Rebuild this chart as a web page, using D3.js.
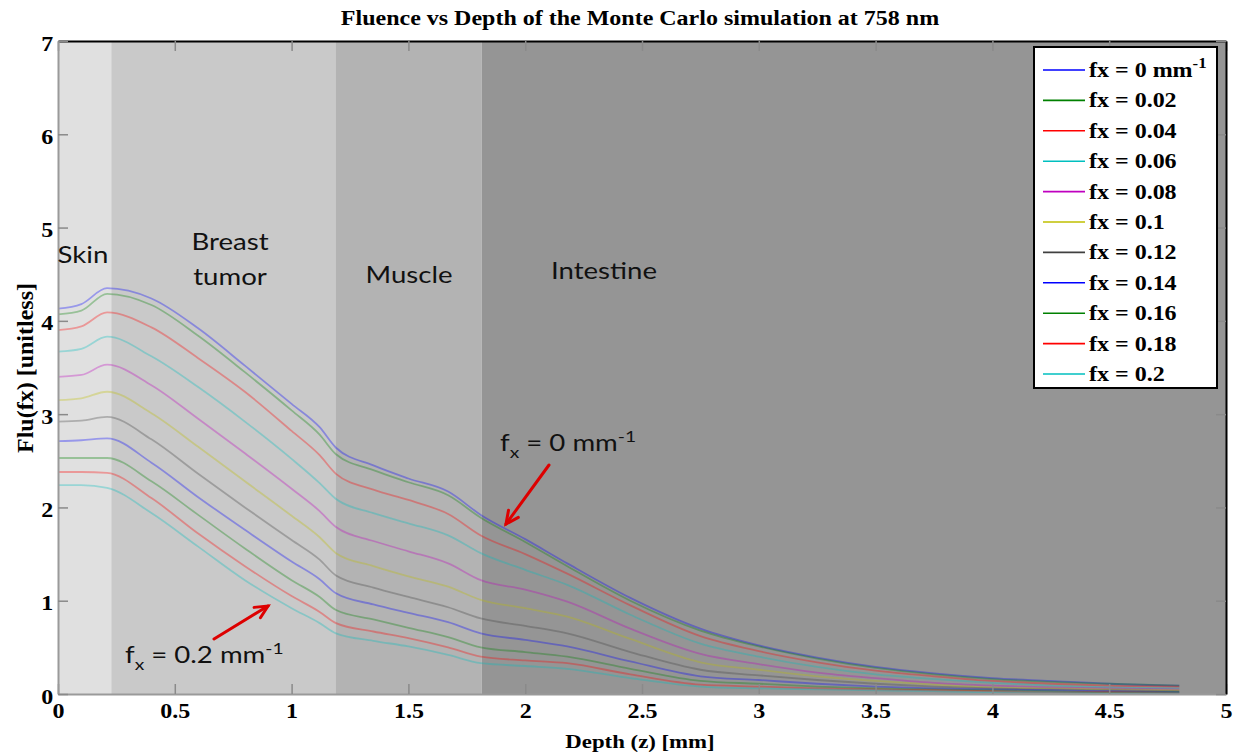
<!DOCTYPE html>
<html>
<head>
<meta charset="utf-8">
<script src="https://cdn.jsdelivr.net/npm/d3@7"></script>
<style>
  body { margin: 0; background: #fff; }
</style>
</head>
<body>
<div id="chart"></div>
<script>
// depth grid (mm)
var depths = [0, 0.1, 0.21, 0.4, 0.6, 0.8, 1.0, 1.12, 1.19, 1.35, 1.5, 1.67, 1.81, 2.0, 2.18, 2.45, 2.75, 3.0, 3.25, 3.5, 3.75, 4.0, 4.25, 4.5, 4.8];

var fxLabels = ["fx = 0 mm", "fx = 0.02", "fx = 0.04", "fx = 0.06", "fx = 0.08", "fx = 0.1",
                "fx = 0.12", "fx = 0.14", "fx = 0.16", "fx = 0.18", "fx = 0.2"];
var colors = ["#0000ff", "#008000", "#ff0000", "#00bfbf", "#bf00bf", "#bfbf00",
              "#404040", "#0000ff", "#008000", "#ff0000", "#00bfbf"];

var flu0  = [4.13, 4.18, 4.35, 4.24, 3.92, 3.52, 3.11, 2.86, 2.64, 2.45, 2.31, 2.17, 1.92, 1.66, 1.40, 1.03, 0.70, 0.52, 0.39, 0.29, 0.22, 0.17, 0.14, 0.11, 0.09];
var flu02 = [4.07, 4.11, 4.29, 4.17, 3.84, 3.45, 3.04, 2.78, 2.57, 2.40, 2.27, 2.13, 1.89, 1.63, 1.37, 1.00, 0.68, 0.51, 0.38, 0.28, 0.21, 0.16, 0.13, 0.11, 0.09];
var flu04 = [3.90, 3.94, 4.09, 3.93, 3.60, 3.24, 2.82, 2.56, 2.36, 2.19, 2.08, 1.93, 1.70, 1.50, 1.29, 0.95, 0.62, 0.46, 0.34, 0.25, 0.19, 0.14, 0.11, 0.09, 0.08];
var flu06 = [3.67, 3.70, 3.83, 3.62, 3.29, 2.92, 2.52, 2.26, 2.09, 1.94, 1.83, 1.70, 1.51, 1.33, 1.17, 0.85, 0.54, 0.40, 0.29, 0.21, 0.16, 0.12, 0.09, 0.07, 0.06];
var flu08 = [3.40, 3.42, 3.53, 3.31, 2.95, 2.58, 2.20, 1.96, 1.79, 1.64, 1.53, 1.40, 1.22, 1.12, 0.99, 0.70, 0.43, 0.32, 0.23, 0.17, 0.12, 0.09, 0.07, 0.06, 0.05];
var flu10 = [3.15, 3.17, 3.24, 3.01, 2.65, 2.28, 1.91, 1.68, 1.51, 1.37, 1.26, 1.15, 1.01, 0.92, 0.83, 0.59, 0.34, 0.26, 0.19, 0.14, 0.10, 0.07, 0.06, 0.05, 0.04];
var flu12 = [2.92, 2.93, 2.97, 2.73, 2.36, 2.00, 1.65, 1.44, 1.27, 1.14, 1.04, 0.93, 0.81, 0.73, 0.65, 0.45, 0.26, 0.20, 0.15, 0.11, 0.08, 0.06, 0.05, 0.04, 0.03];
var flu14 = [2.71, 2.72, 2.74, 2.48, 2.11, 1.76, 1.42, 1.23, 1.08, 0.96, 0.87, 0.77, 0.65, 0.58, 0.51, 0.35, 0.19, 0.15, 0.11, 0.08, 0.06, 0.05, 0.04, 0.03, 0.02];
var flu16 = [2.53, 2.53, 2.53, 2.28, 1.92, 1.56, 1.22, 1.04, 0.90, 0.80, 0.71, 0.61, 0.50, 0.45, 0.40, 0.27, 0.14, 0.11, 0.08, 0.06, 0.05, 0.04, 0.03, 0.02, 0.02];
var flu18 = [2.38, 2.38, 2.37, 2.10, 1.72, 1.37, 1.05, 0.88, 0.76, 0.67, 0.60, 0.50, 0.40, 0.36, 0.33, 0.21, 0.10, 0.08, 0.06, 0.05, 0.04, 0.03, 0.02, 0.02, 0.01];
var flu20 = [2.24, 2.24, 2.21, 1.94, 1.58, 1.22, 0.92, 0.76, 0.65, 0.57, 0.51, 0.42, 0.33, 0.30, 0.27, 0.17, 0.08, 0.06, 0.05, 0.04, 0.03, 0.02, 0.02, 0.01, 0.01];

var fluSeries = [flu0, flu02, flu04, flu06, flu08, flu10, flu12, flu14, flu16, flu18, flu20];

// tissue layers
var layerNames = ["Skin", "Breast tumor", "Muscle", "Intestine"];
var layerStart = [0, 0.228, 1.19, 1.814];
var layerEnd   = [0.228, 1.19, 1.814, 5];
var layerFill  = ["#e0e0e0", "#c9c9c9", "#b3b3b3", "#959595"];

var xTicks = [0, 0.5, 1, 1.5, 2, 2.5, 3, 3.5, 4, 4.5, 5];
var yTicks = [0, 1, 2, 3, 4, 5, 6, 7];

var W = 1239, H = 755;
var svg = d3.select("#chart").append("svg").attr("width", W).attr("height", H);

var x = d3.scaleLinear().domain([0, 5]).range([58, 1226]);
var y = d3.scaleLinear().domain([0, 7]).range([694, 41]);

var serif = '"Liberation Serif", "Times New Roman", serif';
var sans = 'Lato, "Open Sans", sans-serif';
var SX = 1.2; // the original picture is stretched sideways

// layer backgrounds
svg.selectAll("rect.layer")
   .data(layerNames)
   .enter()
   .append("rect")
   .attr("class", "layer")
   .attr("x", function(d, i) { return x(layerStart[i]); })
   .attr("y", y(7))
   .attr("width", function(d, i) { return x(layerEnd[i]) - x(layerStart[i]); })
   .attr("height", y(0) - y(7))
   .attr("fill", function(d, i) { return layerFill[i]; });

// curves
var line = d3.line()
   .x(function(d, i) { return x(depths[i]); })
   .y(function(d) { return y(d); })
   .curve(d3.curveMonotoneX);

svg.selectAll("path.curve")
   .data(fluSeries)
   .enter()
   .append("path")
   .attr("class", "curve")
   .attr("d", line)
   .attr("fill", "none")
   .attr("stroke", function(d, i) { return colors[i]; })
   .attr("stroke-width", 1.8)
   .attr("stroke-opacity", 0.32);

// axes
var xAxis = svg.append("g").attr("transform", "translate(0," + y(0) + ")")
   .call(d3.axisBottom(x).tickValues(xTicks).tickSizeInner(-10).tickSizeOuter(0)
         .tickFormat(function(d) { return d; }));
xAxis.select(".domain").attr("stroke", "#9a9a9a").attr("stroke-width", 2);
xAxis.selectAll(".tick line").attr("stroke", "#8a8a8a").attr("stroke-width", 1.5);
xAxis.selectAll(".tick text").attr("font-size", 20).attr("font-weight", "bold").attr("fill", "#000")
   .attr("font-family", serif).attr("y", 10).attr("dy", "0.71em")
   .attr("transform", "scale(" + SX + ",1)");

var xTop = svg.append("g").attr("transform", "translate(0," + y(7) + ")")
   .call(d3.axisTop(x).tickValues(xTicks).tickSizeInner(-10).tickSizeOuter(0).tickFormat(""));
xTop.select(".domain").attr("stroke", "#000").attr("stroke-width", 2);
xTop.selectAll(".tick line").attr("stroke", "#8a8a8a").attr("stroke-width", 1.5);

var yAxis = svg.append("g").attr("transform", "translate(" + x(0) + ",0)")
   .call(d3.axisLeft(y).tickValues(yTicks).tickSizeInner(-10).tickSizeOuter(0)
         .tickFormat(d3.format("d")));
yAxis.select(".domain").attr("stroke", "#9a9a9a").attr("stroke-width", 2);
yAxis.selectAll(".tick line").attr("stroke", "#8a8a8a").attr("stroke-width", 1.5);
yAxis.selectAll(".tick text").attr("font-size", 20).attr("font-weight", "bold").attr("fill", "#000")
   .attr("font-family", serif).attr("x", -4).attr("dy", "0.45em")
   .attr("transform", "scale(" + SX + ",1)");

var yRight = svg.append("g").attr("transform", "translate(" + x(5) + ",0)")
   .call(d3.axisRight(y).tickValues(yTicks).tickSizeInner(-10).tickSizeOuter(0).tickFormat(""));
yRight.select(".domain").attr("stroke", "#000").attr("stroke-width", 2);
yRight.selectAll(".tick line").attr("stroke", "#8a8a8a").attr("stroke-width", 1.5);

// stretched text helper
function stext(px, py, size, fam, bold, anchor) {
  return svg.append("text")
     .attr("transform", "translate(" + px + "," + py + ") scale(" + SX + ",1)")
     .attr("text-anchor", anchor || "middle")
     .attr("font-family", fam).attr("font-weight", bold ? "bold" : "normal")
     .attr("font-size", size);
}

// titles
stext(640, 25, 20, serif, true).text("Fluence vs Depth of the Monte Carlo simulation at 758 nm");
stext(640, 748, 19, serif, true).text("Depth (z) [mm]");
svg.append("text").attr("transform", "translate(33,368) rotate(-90)").attr("text-anchor", "middle")
   .attr("font-family", serif).attr("font-weight", "bold").attr("font-size", 24)
   .text("Flu(fx) [unitless]");

// layer labels
var labelPos = [[83, 263, ["Skin"]], [230, 250, ["Breast", "tumor"]], [409, 283, ["Muscle"]], [604, 279, ["Intestine"]]];
labelPos.forEach(function(p) {
  var t = stext(p[0], p[1], 23, sans, false).attr("fill", "#111");
  p[2].forEach(function(s, j) {
    t.append("tspan").attr("x", 0).attr("dy", j === 0 ? 0 : 35).text(s);
  });
});

// annotations
function annot(tx, ty, val) {
  var t = stext(tx, ty, 23, sans, false, "start").attr("fill", "#111");
  t.append("tspan").text("f");
  t.append("tspan").attr("font-size", 16).attr("dy", 7).text("x");
  t.append("tspan").attr("dy", -7).text(" = " + val + " mm");
  t.append("tspan").attr("font-size", 16).attr("dy", -9).text("-1");
}
annot(500, 451, "0");
annot(125, 663, "0.2");

function arrow(x1, y1, x2, y2) {
  var g = svg.append("g").attr("stroke", "#dd0000").attr("stroke-width", 3).attr("fill", "none")
     .attr("stroke-linecap", "round");
  g.append("line").attr("x1", x1).attr("y1", y1).attr("x2", x2).attr("y2", y2);
  var a = Math.atan2(y2 - y1, x2 - x1), L = 14, s = 0.45;
  g.append("polyline").attr("points", [
    [x2 - L * Math.cos(a - s), y2 - L * Math.sin(a - s)],
    [x2, y2],
    [x2 - L * Math.cos(a + s), y2 - L * Math.sin(a + s)]
  ].map(function(p) { return p.join(","); }).join(" "));
}
arrow(549, 465, 506, 524);
arrow(214, 639, 268, 606);

// legend
var lg = svg.append("g");
lg.append("rect").attr("x", 1034).attr("y", 47).attr("width", 183).attr("height", 341)
   .attr("fill", "#fff").attr("stroke", "#000").attr("stroke-width", 2);
var rows = lg.selectAll("g.row").data(fxLabels).enter().append("g").attr("class", "row")
   .attr("transform", function(d, i) { return "translate(0," + (70 + i * 30.4) + ")"; });
rows.append("line").attr("x1", 1043).attr("x2", 1085).attr("y1", 0).attr("y2", 0)
   .attr("stroke", function(d, i) { return colors[i]; }).attr("stroke-width", 1.6);
var lt = rows.append("text").attr("transform", "translate(1089,7) scale(" + SX + ",1)")
   .attr("font-family", serif).attr("font-weight", "bold").attr("font-size", 20)
   .text(function(d) { return d; });
lt.filter(function(d, i) { return i === 0; })
   .append("tspan").attr("dy", -9).attr("font-size", 14).text("-1");
</script>
</body>
</html>
